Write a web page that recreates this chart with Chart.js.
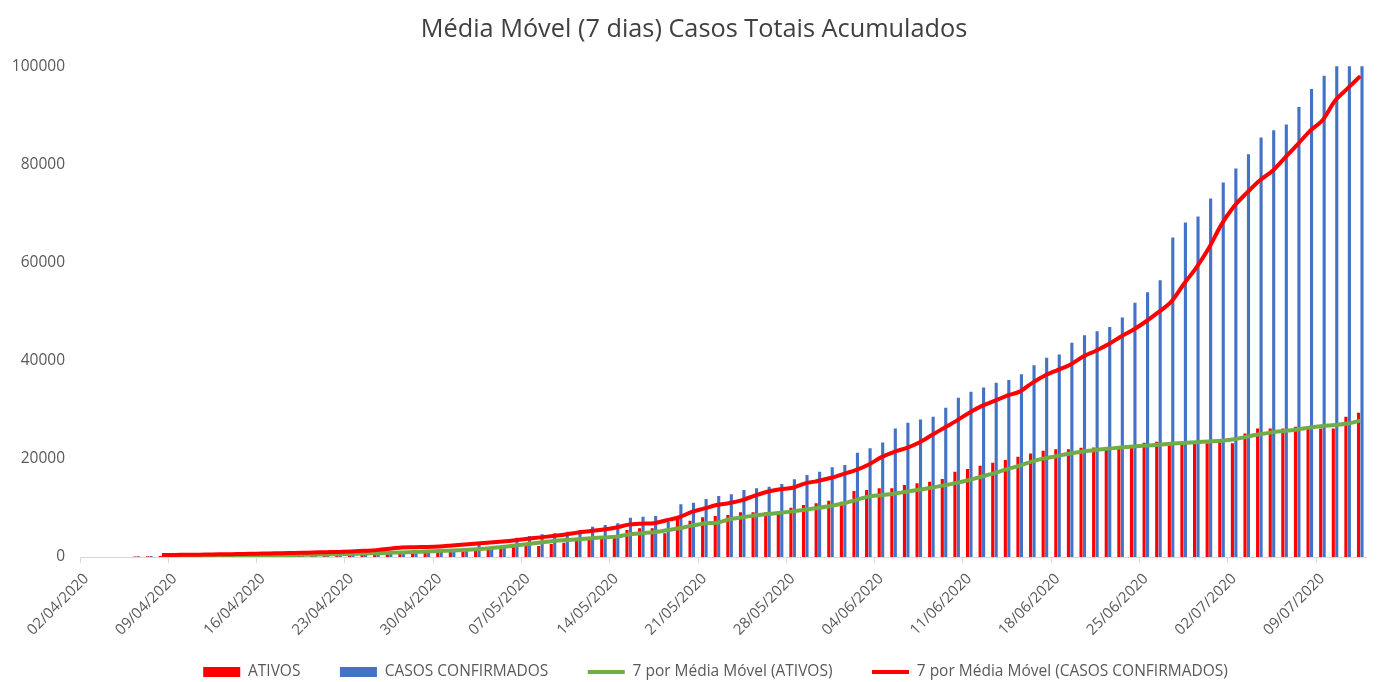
<!DOCTYPE html>
<html lang="pt-BR">
<head>
<meta charset="utf-8">
<title>Média Móvel (7 dias) Casos Totais Acumulados</title>
<script src="https://cdn.jsdelivr.net/npm/chart.js@4.4.1/dist/chart.umd.min.js"></script>
<style>
  html, body { margin: 0; padding: 0; background: #ffffff; }
  canvas { display: block; }
</style>
</head>
<body>
<canvas id="chartCasos" width="1380" height="682"></canvas>
<script>
// Dias (eixo X) - 02/04/2020 a 12/07/2020
const datas = [
    '02/04/2020', '03/04/2020', '04/04/2020', '05/04/2020', '06/04/2020', '07/04/2020', '08/04/2020',
    '09/04/2020', '10/04/2020', '11/04/2020', '12/04/2020', '13/04/2020', '14/04/2020', '15/04/2020',
    '16/04/2020', '17/04/2020', '18/04/2020', '19/04/2020', '20/04/2020', '21/04/2020', '22/04/2020',
    '23/04/2020', '24/04/2020', '25/04/2020', '26/04/2020', '27/04/2020', '28/04/2020', '29/04/2020',
    '30/04/2020', '01/05/2020', '02/05/2020', '03/05/2020', '04/05/2020', '05/05/2020', '06/05/2020',
    '07/05/2020', '08/05/2020', '09/05/2020', '10/05/2020', '11/05/2020', '12/05/2020', '13/05/2020',
    '14/05/2020', '15/05/2020', '16/05/2020', '17/05/2020', '18/05/2020', '19/05/2020', '20/05/2020',
    '21/05/2020', '22/05/2020', '23/05/2020', '24/05/2020', '25/05/2020', '26/05/2020', '27/05/2020',
    '28/05/2020', '29/05/2020', '30/05/2020', '31/05/2020', '01/06/2020', '02/06/2020', '03/06/2020',
    '04/06/2020', '05/06/2020', '06/06/2020', '07/06/2020', '08/06/2020', '09/06/2020', '10/06/2020',
    '11/06/2020', '12/06/2020', '13/06/2020', '14/06/2020', '15/06/2020', '16/06/2020', '17/06/2020',
    '18/06/2020', '19/06/2020', '20/06/2020', '21/06/2020', '22/06/2020', '23/06/2020', '24/06/2020',
    '25/06/2020', '26/06/2020', '27/06/2020', '28/06/2020', '29/06/2020', '30/06/2020', '01/07/2020',
    '02/07/2020', '03/07/2020', '04/07/2020', '05/07/2020', '06/07/2020', '07/07/2020', '08/07/2020',
    '09/07/2020', '10/07/2020', '11/07/2020', '12/07/2020'
];

const ativos = [
    null, null, null, null, 100, 150, 180,
    200, 220, 240, 260, 280, 300, 320,
    340, 360, 390, 420, 450, 480, 510,
    540, 580, 620, 660, 750, 1080, 1080,
    1430, 1430, 1430, 1770, 1770, 1980, 2240,
    2240, 2240, 2650, 2910, 3460, 3810, 4280,
    4480, 5500, 5850, 5850, 4830, 8210, 7390,
    8090, 8350, 8550, 9100, 9100, 9100, 8760,
    10040, 10590, 10940, 11470, 11260, 13440, 13650,
    13990, 13990, 14660, 15010, 15340, 15890, 17370,
    17920, 18600, 19210, 19760, 20430, 21120, 21650,
    21940, 21940, 22260, 22340, 22000, 22460, 22810,
    23280, 23480, 23280, 22810, 23480, 23160, 23480,
    23160, 25190, 26210, 26210, 26210, 26540, 26540,
    26210, 26210, 28580, 29390
];

const confirmados = [
    null, null, null, null, 150, 200, 240,
    270, 300, 330, 360, 390, 420, 450,
    480, 510, 550, 590, 630, 520, 560,
    600, 640, 680, 720, 760, 1080, 1080,
    1430, 1430, 1770, 3000, 1800, 2100, 3930,
    4280, 4620, 4830, 5150, 5500, 6170, 6520,
    6860, 8000, 8210, 8350, 7190, 10730, 11060,
    11810, 12420, 12770, 13650, 13990, 14320, 14870,
    15830, 16700, 17370, 18270, 18740, 21240, 22140,
    23360, 26210, 27350, 28050, 28580, 30410, 32440,
    33670, 34560, 35500, 36050, 37270, 39100, 40590,
    41280, 43650, 45210, 46030, 46900, 48820, 51800,
    53970, 56420, 65110, 68170, 69390, 73060, 76310,
    79170, 82080, 85480, 86970, 88130, 91710, 95380,
    98110, 102000, 104500, 107000
];

const mediaAtivos = [
    null, null, null, null, null, null, 150,
    170, 190, 210, 230, 250, 280, 310,
    340, 370, 400, 440, 480, 520, 560,
    620, 700, 780, 860, 940, 1020, 1100,
    1200, 1330, 1450, 1600, 1800, 2050, 2350,
    2650, 2950, 3250, 3450, 3600, 3800, 4000,
    4150, 4600, 4850, 5050, 5450, 5850, 6400,
    6850, 7000, 7700, 8100, 8450, 8750, 9000,
    9300, 9650, 10000, 10400, 10900, 11600, 12300,
    12600, 12900, 13300, 13700, 14100, 14600, 15100,
    15700, 16400, 17100, 17900, 18600, 19500, 20100,
    20600, 21100, 21500, 21800, 22100, 22300, 22500,
    22700, 22900, 23100, 23250, 23400, 23550, 23700,
    24000, 24500, 25000, 25400, 25700, 26000, 26400,
    26700, 26900, 27200, 27800
];

const mediaConfirmados = [
    null, null, null, null, null, null, 400,
    420, 450, 480, 520, 560, 600, 650,
    700, 750, 800, 860, 920, 980, 1040,
    1100, 1250, 1400, 1700, 1950, 2000, 2050,
    2150, 2350, 2550, 2750, 2950, 3150, 3400,
    3700, 4000, 4300, 4600, 5000, 5300, 5600,
    6000, 6600, 6800, 6900, 7500, 8100, 9200,
    9900, 10600, 11000, 11600, 12500, 13300, 13800,
    14100, 15000, 15500, 16100, 16900, 17700, 18800,
    20300, 21400, 22200, 23300, 24800, 26300, 27800,
    29400, 30800, 31800, 32900, 33700, 35500, 37000,
    38100, 39200, 40800, 42000, 43300, 44900, 46300,
    48000, 49900, 52000, 55600, 59000, 63000, 67800,
    71500, 74200, 76700, 78600, 81300, 84000, 86800,
    89000, 93000, 95500, 98000
];

const yTicks = [0, 20000, 40000, 60000, 80000, 100000];

const COR_ATIVOS = '#FF0000';
const COR_CONFIRMADOS = '#4472C4';
const COR_MEDIA_ATIVOS = '#70AD47';
const COR_MEDIA_CONFIRMADOS = '#FF0000';
const COR_TEXTO = '#595959';
const FONTE = 'Open Sans';

function renderChart() {
    const ctx = document.getElementById('chartCasos');

    new Chart(ctx, {
        type: 'bar',
        data: {
            labels: datas,
            datasets: [{
                label: 'ATIVOS',
                data: ativos,
                backgroundColor: COR_ATIVOS,
                borderWidth: 0,
                categoryPercentage: 0.55,
                barPercentage: 0.9,
                order: 2
            }, {
                label: 'CASOS CONFIRMADOS',
                data: confirmados,
                backgroundColor: COR_CONFIRMADOS,
                borderWidth: 0,
                categoryPercentage: 0.55,
                barPercentage: 0.9,
                order: 3
            }, {
                type: 'line',
                label: '7 por Média Móvel (ATIVOS)',
                data: mediaAtivos,
                borderColor: COR_MEDIA_ATIVOS,
                backgroundColor: COR_MEDIA_ATIVOS,
                borderWidth: 4,
                pointRadius: 0,
                pointHoverRadius: 0,
                tension: 0.3,
                order: 1
            }, {
                type: 'line',
                label: '7 por Média Móvel (CASOS CONFIRMADOS)',
                data: mediaConfirmados,
                borderColor: COR_MEDIA_CONFIRMADOS,
                backgroundColor: COR_MEDIA_CONFIRMADOS,
                borderWidth: 4,
                pointRadius: 0,
                pointHoverRadius: 0,
                tension: 0.3,
                order: 0
            }]
        },
        options: {
            responsive: false,
            animation: false,
            layout: {
                // legend box is itemHeight + padding + 10 tall; pull it down so labels sit at y~672
                padding: { left: 10, right: 2, top: 0, bottom: -7.75 }
            },
            plugins: {
                title: {
                    display: true,
                    text: 'Média Móvel (7 dias) Casos Totais Acumulados',
                    color: '#404040',
                    font: { family: FONTE, size: 25.3, weight: 'normal' },
                    padding: { top: 15, bottom: 21 }
                },
                legend: {
                    position: 'bottom',
                    fullSize: false,
                    labels: {
                        usePointStyle: true,
                        pointStyleWidth: 37,
                        boxHeight: 10,
                        padding: 24,
                        color: COR_TEXTO,
                        font: { family: FONTE, size: 15.5 },
                        sort: (a, b) => a.datasetIndex - b.datasetIndex,
                        generateLabels: function(chart) {
                            const base = Chart.defaults.plugins.legend.labels.generateLabels(chart);
                            return base.map(item => {
                                const ds = chart.data.datasets[item.datasetIndex];
                                const isLine = ds.type === 'line';
                                // em space widens the gap between items without making the box taller
                                item.text = ds.label + '\u2003';
                                item.pointStyle = isLine ? 'line' : 'rect';
                                item.fillStyle = isLine ? ds.borderColor : ds.backgroundColor;
                                item.strokeStyle = isLine ? ds.borderColor : ds.backgroundColor;
                                item.lineWidth = isLine ? 4 : 0;
                                return item;
                            });
                        }
                    }
                },
                tooltip: { enabled: false }
            },
            scales: {
                x: {
                    offset: true,
                    grid: {
                        offset: true,
                        drawOnChartArea: false,
                        tickLength: 6,
                        color: function(c) {
                            return c.index % 7 === 0 ? '#d9d9d9' : 'rgba(0,0,0,0)';
                        }
                    },
                    border: { color: '#d9d9d9', width: 1 },
                    ticks: {
                        autoSkip: false,
                        minRotation: 45,
                        maxRotation: 45,
                        padding: 7,
                        color: COR_TEXTO,
                        font: { family: FONTE, size: 15 },
                        callback: function(value, index) {
                            return index % 7 === 0 ? datas[index] : '';
                        }
                    },
                    afterFit: function(scale) {
                        scale.height = 83.25;
                    }
                },
                y: {
                    min: 0,
                    max: 100000,
                    grid: { display: false, drawTicks: false },
                    border: { display: false },
                    ticks: {
                        padding: 15,
                        color: COR_TEXTO,
                        font: { family: FONTE, size: 15.5 },
                        callback: value => String(value)
                    },
                    afterBuildTicks: function(scale) {
                        scale.ticks = yTicks.map(v => ({ value: v }));
                    },
                    afterFit: function(scale) {
                        scale.width = 70;
                    }
                }
            }
        }
    });
}

renderChart();
</script>
</body>
</html>
